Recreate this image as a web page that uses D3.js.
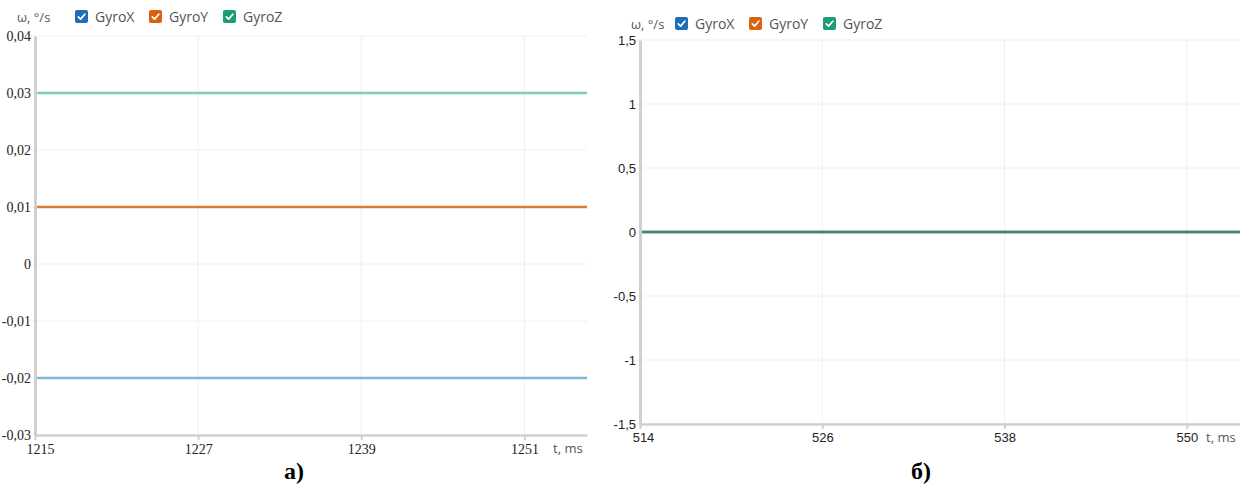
<!DOCTYPE html>
<html>
<head>
<meta charset="utf-8">
<script src="https://cdn.jsdelivr.net/npm/d3@7"></script>
<style>
  html, body { margin: 0; padding: 0; background: #fff; }
  svg { display: block; }
</style>
</head>
<body>
<svg id="chart" width="1240" height="485"></svg>
<script>
// Gyroscope angular rate, two recordings
const seriesNames = ["GyroX", "GyroY", "GyroZ"];
const boxColors = ["#1f6fb4", "#d9620f", "#1a9e77"];

// Recording (а)
const timeA = [1215, 1221, 1227, 1233, 1239, 1245, 1251, 1255.6];
const gyroXA = [-0.02, -0.02, -0.02, -0.02, -0.02, -0.02, -0.02, -0.02];
const gyroYA = [0.01, 0.01, 0.01, 0.01, 0.01, 0.01, 0.01, 0.01];
const gyroZA = [0.03, 0.03, 0.03, 0.03, 0.03, 0.03, 0.03, 0.03];
const yTicksA = [0.04, 0.03, 0.02, 0.01, 0, -0.01, -0.02, -0.03];
const xTicksA = [1215, 1227, 1239, 1251];

// Recording (б)
const timeB = [514, 520, 526, 532, 538, 544, 550, 553.5];
const gyroXB = [0, 0, 0, 0, 0, 0, 0, 0];
const gyroYB = [0, 0, 0, 0, 0, 0, 0, 0];
const gyroZB = [0, 0, 0, 0, 0, 0, 0, 0];
const yTicksB = [1.5, 1, 0.5, 0, -0.5, -1, -1.5];
const xTicksB = [514, 526, 538, 550];

const svg = d3.select("#chart");
const fmtComma = v => String(v).replace(".", ",");

function drawPanel(cfg) {
  const g = svg.append("g");
  const x = d3.scaleLinear().domain(cfg.xDomain).range([cfg.left, cfg.right]);
  const y = d3.scaleLinear().domain(cfg.yDomain).range([cfg.bottom, cfg.top]);

  // grid
  g.append("g").selectAll("line").data(cfg.yTicks).join("line")
    .attr("x1", cfg.left - 6).attr("x2", cfg.right)
    .attr("y1", d => y(d)).attr("y2", d => y(d))
    .attr("stroke", "#eef1f1").attr("stroke-width", 1);
  g.append("g").selectAll("line").data(cfg.xTicks.slice(1)).join("line")
    .attr("x1", d => x(d)).attr("x2", d => x(d))
    .attr("y1", cfg.top).attr("y2", cfg.bottom)
    .attr("stroke", "#eef1f1").attr("stroke-width", 1);

  // series
  const line = d3.line().x((d, i) => x(cfg.time[i])).y(d => y(d));
  cfg.series.forEach((vals, i) => {
    g.append("path").datum(vals)
      .attr("d", line)
      .attr("fill", "none")
      .attr("stroke", cfg.lineColors[i])
      .attr("stroke-opacity", cfg.lineOpacity[i])
      .attr("stroke-width", cfg.lineWidth);
  });

  // axes
  const yAxis = g.append("g").attr("transform", `translate(${cfg.left},0)`)
    .call(d3.axisLeft(y).tickValues(cfg.yTicks).tickFormat(fmtComma).tickSize(0).tickPadding(4));
  yAxis.select(".domain").attr("stroke", "#d0d0d0").attr("stroke-width", 3);
  yAxis.selectAll("text").attr("font-family", cfg.tickFont).attr("font-size", cfg.tickSize).attr("fill", "#222");

  const xAxis = g.append("g").attr("transform", `translate(0,${cfg.bottom})`)
    .call(d3.axisBottom(x).tickValues(cfg.xTicks).tickFormat(d3.format("d")).tickSize(5).tickSizeOuter(0).tickPadding(cfg.xPad));
  xAxis.select(".domain").attr("stroke", "#d0d0d0").attr("stroke-width", 2.5);
  xAxis.selectAll(".tick line").attr("stroke", "#d0d0d0").attr("stroke-width", 2);
  xAxis.selectAll("text").attr("font-family", cfg.tickFont).attr("font-size", cfg.tickSize).attr("fill", "#222")
    .attr("dx", (d, i) => i === 0 ? cfg.firstDx : 0);

  // axis titles
  g.append("text").attr("x", cfg.right - 34).attr("y", cfg.bottom + cfg.xPad + 14)
    .attr("font-family", "Open Sans").attr("font-size", 13).attr("fill", "#555")
    .text("t, ms");
  g.append("text").attr("x", cfg.unitX).attr("y", cfg.legendY + 5)
    .attr("font-family", "Open Sans").attr("font-size", 13).attr("fill", "#555")
    .text("ω, °/s");

  // legend with checked boxes
  seriesNames.forEach((name, i) => {
    const lx = cfg.legendX + i * 74;
    const lg = g.append("g").attr("transform", `translate(${lx},${cfg.legendY - 7})`);
    lg.append("rect").attr("width", 13).attr("height", 13).attr("rx", 2)
      .attr("fill", boxColors[i]);
    lg.append("path").attr("d", "M3.3,6.8 L5.6,9.1 L9.8,4.2")
      .attr("fill", "none").attr("stroke", "#fff").attr("stroke-width", 1.7)
      .attr("stroke-linecap", "round").attr("stroke-linejoin", "round");
    lg.append("text").attr("x", 20).attr("y", 12)
      .attr("font-family", "Open Sans").attr("font-size", 14).attr("fill", "#555")
      .text(name);
  });

  // caption
  g.append("text").attr("x", cfg.captionX).attr("y", 479)
    .attr("text-anchor", "middle")
    .attr("font-family", "Liberation Serif").attr("font-weight", "bold").attr("font-size", 24)
    .attr("fill", "#000").text(cfg.caption);
}

drawPanel({
  left: 35, right: 587, top: 36, bottom: 435,
  xDomain: [1215, 1255.6], yDomain: [-0.03, 0.04],
  time: timeA, series: [gyroXA, gyroYA, gyroZA],
  yTicks: yTicksA, xTicks: xTicksA,
  lineColors: ["#7db6d8", "#e07a30", "#7fcdb4"], lineOpacity: [1, 1, 1], lineWidth: 2.5,
  tickFont: "Liberation Serif", tickSize: 14, xPad: 4, firstDx: 5,
  legendX: 75, legendY: 17, unitX: 17,
  caption: "а)", captionX: 294
});

drawPanel({
  left: 640, right: 1240, top: 40, bottom: 424,
  xDomain: [514, 553.5], yDomain: [-1.5, 1.5],
  time: timeB, series: [gyroXB, gyroYB, gyroZB],
  yTicks: yTicksB, xTicks: xTicksB,
  lineColors: ["#1f6fb4", "#d9620f", "#1a9e77"], lineOpacity: [1, 0.5, 0.5], lineWidth: 2.5,
  tickFont: "Liberation Sans", tickSize: 13, xPad: 4, firstDx: 3,
  legendX: 675, legendY: 24, unitX: 631,
  caption: "б)", captionX: 921
});
</script>
</body>
</html>
